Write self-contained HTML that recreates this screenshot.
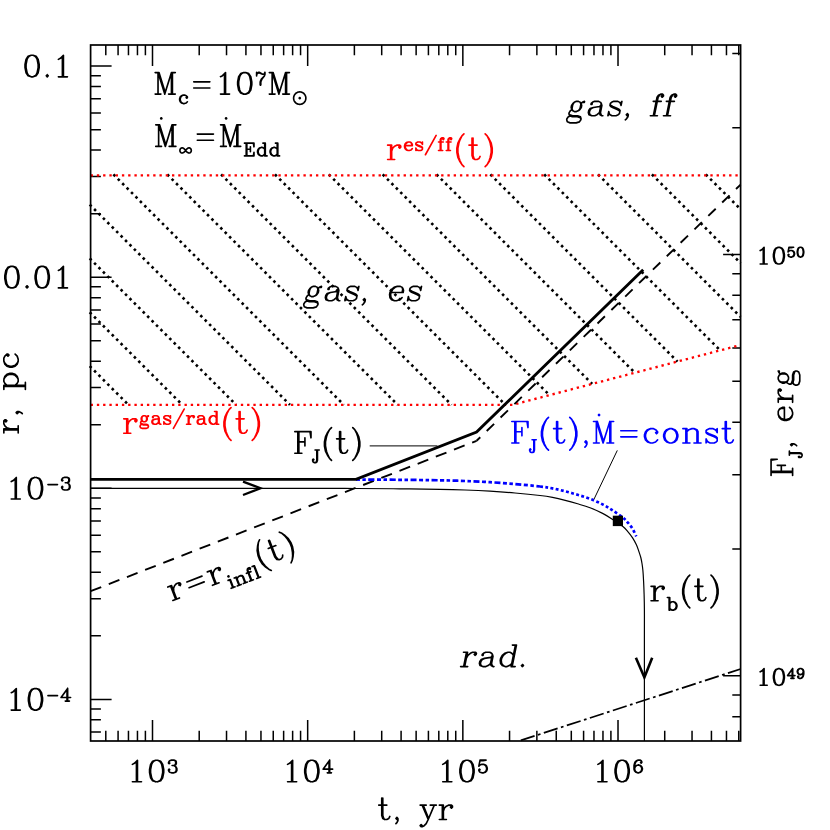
<!DOCTYPE html>
<html><head><meta charset="utf-8"><title>plot</title>
<style>html,body{margin:0;padding:0;background:#fff;font-family:"Liberation Serif",serif;}svg{display:block}</style>
</head><body>
<svg width="830" height="830" viewBox="0 0 830 830">
<rect width="830" height="830" fill="#fff"/>
<path d="M105.79 741V730.7M105.79 45V55.3M118.08 741V730.7M118.08 45V55.3M128.46 741V730.7M128.46 45V55.3M137.46 741V730.7M137.46 45V55.3M145.4 741V730.7M145.4 45V55.3M152.5 741V720M152.5 45V66M199.21 741V730.7M199.21 45V55.3M226.53 741V730.7M226.53 45V55.3M245.92 741V730.7M245.92 45V55.3M260.96 741V730.7M260.96 45V55.3M273.25 741V730.7M273.25 45V55.3M283.63 741V730.7M283.63 45V55.3M292.63 741V730.7M292.63 45V55.3M300.57 741V730.7M300.57 45V55.3M307.67 741V720M307.67 45V66M354.38 741V730.7M354.38 45V55.3M381.7 741V730.7M381.7 45V55.3M401.09 741V730.7M401.09 45V55.3M416.13 741V730.7M416.13 45V55.3M428.42 741V730.7M428.42 45V55.3M438.8 741V730.7M438.8 45V55.3M447.8 741V730.7M447.8 45V55.3M455.74 741V730.7M455.74 45V55.3M462.84 741V720M462.84 45V66M509.55 741V730.7M509.55 45V55.3M536.87 741V730.7M536.87 45V55.3M556.26 741V730.7M556.26 45V55.3M571.3 741V730.7M571.3 45V55.3M583.59 741V730.7M583.59 45V55.3M593.97 741V730.7M593.97 45V55.3M602.97 741V730.7M602.97 45V55.3M610.91 741V730.7M610.91 45V55.3M618.01 741V720M618.01 45V66M664.72 741V730.7M664.72 45V55.3M692.04 741V730.7M692.04 45V55.3M711.43 741V730.7M711.43 45V55.3M726.47 741V730.7M726.47 45V55.3M738.76 741V730.7M738.76 45V55.3M90.6 732.1H100.9M90.6 719.86H100.9M90.6 709.06H100.9M90.6 699.4H111.6M90.6 635.85H100.9M90.6 598.68H100.9M90.6 572.31H100.9M90.6 551.85H100.9M90.6 535.13H100.9M90.6 521H100.9M90.6 508.76H100.9M90.6 497.96H100.9M90.6 488.3H111.6M90.6 424.75H100.9M90.6 387.58H100.9M90.6 361.21H100.9M90.6 340.75H100.9M90.6 324.03H100.9M90.6 309.9H100.9M90.6 297.66H100.9M90.6 286.86H100.9M90.6 277.2H111.6M90.6 213.65H100.9M90.6 176.48H100.9M90.6 150.11H100.9M90.6 129.65H100.9M90.6 112.93H100.9M90.6 98.8H100.9M90.6 86.56H100.9M90.6 75.76H100.9M90.6 66.1H111.6M740.6 716.63H732.3M740.6 695.08H732.3M740.6 675.8H723.1M740.6 548.98H732.3M740.6 474.79H732.3M740.6 422.15H732.3M740.6 381.32H732.3M740.6 347.96H732.3M740.6 319.76H732.3M740.6 295.33H732.3M740.6 273.78H732.3M740.6 254.5H723.1M740.6 127.68H732.3M740.6 53.49H732.3" stroke="#000" stroke-width="1.5" fill="none"/>
<path d="M89.7 366.1L128.4 404.8M89.7 312.25L182.25 404.8M89.7 258.4L236.1 404.8M89.7 204.55L289.95 404.8M113.4 174.4L343.8 404.8M167.25 174.4L397.65 404.8M221.1 174.4L451.5 404.8M274.95 174.4L505.35 404.8M328.8 174.4L549.52 395.12M382.65 174.4L592.18 383.93M436.5 174.4L634.84 372.74M490.35 174.4L677.5 361.55M544.2 174.4L720.16 350.36M598.05 174.4L740.6 316.95M651.9 174.4L740.6 263.1M705.75 174.4L740.6 209.25" stroke="#000" stroke-width="2.6" stroke-dasharray="2.6 3.66" fill="none"/>
<path d="M90.6 175.3H740.6" stroke="#f00" stroke-width="2.35" stroke-dasharray="2.35 3.91" fill="none"/>
<path d="M90.6 404.8H512.6L740.6 345" stroke="#f00" stroke-width="2.35" stroke-dasharray="2.35 3.91" fill="none"/>
<path d="M90.6 591.2L476.6 440.8" stroke="#000" stroke-width="1.9" stroke-dasharray="11.4 8.1" fill="none"/>
<path d="M476.6 440.8L740.6 184.6" stroke="#000" stroke-width="1.9" stroke-dasharray="10.3 9" stroke-dashoffset="5.2" fill="none"/>
<path d="M90.6 488.3C125.5 488.31 255.77 488.32 300 488.35C344.23 488.38 339.33 488.43 356 488.5C372.67 488.57 386 488.67 400 488.8C414 488.93 429.17 489.1 440 489.3C450.83 489.5 456.67 489.68 465 490C473.33 490.32 481.67 490.7 490 491.2C498.33 491.7 506.67 492.28 515 493C523.33 493.72 533.75 494.77 540 495.5C546.25 496.23 548.3 496.6 552.5 497.4C556.7 498.2 561.02 499.23 565.2 500.3C569.38 501.37 573.47 502.55 577.6 503.8C581.73 505.05 585.83 506.2 590 507.8C594.17 509.4 598.82 511.47 602.6 513.4C606.38 515.33 609.32 517.22 612.7 519.4C616.08 521.58 620.42 524.52 622.9 526.5C625.38 528.48 625.98 529.42 627.6 531.3C629.22 533.18 631.13 535.55 632.6 537.8C634.07 540.05 635.35 542.52 636.4 544.8C637.45 547.08 638.17 549.38 638.9 551.5C639.63 553.62 640.28 555.5 640.8 557.5C641.32 559.5 641.65 561.33 642 563.5C642.35 565.67 642.63 567.5 642.9 570.5C643.17 573.5 643.4 577.58 643.6 581.5C643.8 585.42 643.97 589.25 644.1 594C644.23 598.75 644.35 602.33 644.4 610C644.45 617.67 644.4 618.17 644.4 640C644.4 661.83 644.4 724.17 644.4 741" stroke="#000" stroke-width="1.2" fill="none"/>
<path d="M356 479.5C363.33 479.55 386 479.67 400 479.8C414 479.93 429.17 480.1 440 480.3C450.83 480.5 456.67 480.68 465 481C473.33 481.32 481.67 481.7 490 482.2C498.33 482.7 506.67 483.28 515 484C523.33 484.72 533.75 485.77 540 486.5" stroke="#00f" stroke-width="2.7" stroke-dasharray="4 2.5 3.5 2.5 6 2.5" fill="none"/>
<path d="M540 486.5C546.25 487.23 548.3 487.6 552.5 488.4C556.7 489.2 561.02 490.23 565.2 491.3C569.38 492.37 573.47 493.55 577.6 494.8C581.73 496.05 585.83 497.2 590 498.8C594.17 500.4 598.82 502.47 602.6 504.4C606.38 506.33 609.32 508.22 612.7 510.4C616.08 512.58 620.42 515.52 622.9 517.5C625.38 519.48 625.98 520.42 627.6 522.3C629.22 524.18 631.15 526.45 632.6 528.8C634.05 531.15 635.68 535.13 636.3 536.4" stroke="#00f" stroke-width="2.7" stroke-dasharray="2.9 2.4" fill="none"/>
<path d="M90.6 479.4L356 479.4L476.6 432L643.2 269.8" stroke="#000" stroke-width="2.9" fill="none" stroke-linejoin="miter"/>
<path d="M519 741L740.6 669" stroke="#000" stroke-width="1.75" stroke-dasharray="14.5 3.5 2.7 3.5" stroke-dashoffset="22.3" fill="none"/>
<rect x="612.8" y="515.7" width="10.2" height="10.4" fill="#000"/>
<path d="M243 481.6L260.6 488.3L243 495" stroke="#000" stroke-width="2.2" fill="none" stroke-linejoin="miter"/>
<path d="M635.9 657.7L644.4 677.4L652.2 657.7" stroke="#000" stroke-width="2.6" fill="none" stroke-linejoin="miter"/>
<path d="M369.7 445.9H437.4M617.3 450.4L594 499.2" stroke="#000" stroke-width="1" fill="none"/>
<rect x="90.6" y="45" width="650" height="696" stroke="#000" stroke-width="1.7" fill="none"/>
<path transform="translate(152.5 781.8)" d="M-20.1 -17.43 L-18.08 -18.45 L-15.05 -21.53 L-15.05 0M-16.06 -20.5 L-16.06 0M-20.1 0 L-11.01 0M3.13 -21.53 L0.1 -20.5 L-1.92 -17.43 L-2.93 -12.3 L-2.93 -9.23 L-1.92 -4.1 L0.1 -1.03 L3.13 0 L5.15 0 L8.18 -1.03 L10.2 -4.1 L11.21 -9.23 L11.21 -12.3 L10.2 -17.43 L8.18 -20.5 L5.15 -21.53 L3.13 -21.53M3.13 -21.53 L1.11 -20.5 L0.1 -19.48 L-0.91 -17.43 L-1.92 -12.3 L-1.92 -9.23 L-0.91 -4.1 L0.1 -2.05 L1.11 -1.03 L3.13 0M5.15 0 L7.17 -1.03 L8.18 -2.05 L9.19 -4.1 L10.2 -9.23 L10.2 -12.3 L9.19 -17.43 L8.18 -19.48 L7.17 -20.5 L5.15 -21.53M16.62 -19.27 L17.22 -18.67 L16.62 -18.06 L16.03 -18.67 L16.03 -19.27 L16.62 -20.48 L17.22 -21.09 L19.01 -21.69 L21.39 -21.69 L23.18 -21.09 L23.78 -19.88 L23.78 -18.06 L23.18 -16.85 L21.39 -16.25 L19.6 -16.25M21.39 -21.69 L22.58 -21.09 L23.18 -19.88 L23.18 -18.06 L22.58 -16.85 L21.39 -16.25M21.39 -16.25 L22.58 -15.64 L23.78 -14.43 L24.37 -13.22 L24.37 -11.41 L23.78 -10.2 L23.18 -9.59 L21.39 -8.99 L19.01 -8.99 L17.22 -9.59 L16.62 -10.2 L16.03 -11.41 L16.03 -12.01 L16.62 -12.62 L17.22 -12.01 L16.62 -11.41M23.18 -15.04 L23.78 -13.22 L23.78 -11.41 L23.18 -10.2 L22.58 -9.59 L21.39 -8.99" stroke="#000" stroke-width="1.65" fill="none" stroke-linecap="round" stroke-linejoin="round"/>
<path transform="translate(307.67 781.8)" d="M-20.1 -17.43 L-18.08 -18.45 L-15.05 -21.53 L-15.05 0M-16.06 -20.5 L-16.06 0M-20.1 0 L-11.01 0M3.13 -21.53 L0.1 -20.5 L-1.92 -17.43 L-2.93 -12.3 L-2.93 -9.23 L-1.92 -4.1 L0.1 -1.03 L3.13 0 L5.15 0 L8.18 -1.03 L10.2 -4.1 L11.21 -9.23 L11.21 -12.3 L10.2 -17.43 L8.18 -20.5 L5.15 -21.53 L3.13 -21.53M3.13 -21.53 L1.11 -20.5 L0.1 -19.48 L-0.91 -17.43 L-1.92 -12.3 L-1.92 -9.23 L-0.91 -4.1 L0.1 -2.05 L1.11 -1.03 L3.13 0M5.15 0 L7.17 -1.03 L8.18 -2.05 L9.19 -4.1 L10.2 -9.23 L10.2 -12.3 L9.19 -17.43 L8.18 -19.48 L7.17 -20.5 L5.15 -21.53M21.39 -20.48 L21.39 -8.99M21.99 -21.69 L21.99 -8.99M21.99 -21.69 L15.43 -12.62 L24.97 -12.62M19.6 -8.99 L23.78 -8.99" stroke="#000" stroke-width="1.65" fill="none" stroke-linecap="round" stroke-linejoin="round"/>
<path transform="translate(462.84 781.8)" d="M-20.1 -17.43 L-18.08 -18.45 L-15.05 -21.53 L-15.05 0M-16.06 -20.5 L-16.06 0M-20.1 0 L-11.01 0M3.13 -21.53 L0.1 -20.5 L-1.92 -17.43 L-2.93 -12.3 L-2.93 -9.23 L-1.92 -4.1 L0.1 -1.03 L3.13 0 L5.15 0 L8.18 -1.03 L10.2 -4.1 L11.21 -9.23 L11.21 -12.3 L10.2 -17.43 L8.18 -20.5 L5.15 -21.53 L3.13 -21.53M3.13 -21.53 L1.11 -20.5 L0.1 -19.48 L-0.91 -17.43 L-1.92 -12.3 L-1.92 -9.23 L-0.91 -4.1 L0.1 -2.05 L1.11 -1.03 L3.13 0M5.15 0 L7.17 -1.03 L8.18 -2.05 L9.19 -4.1 L10.2 -9.23 L10.2 -12.3 L9.19 -17.43 L8.18 -19.48 L7.17 -20.5 L5.15 -21.53M17.22 -21.69 L16.03 -15.64M16.03 -15.64 L17.22 -16.85 L19.01 -17.46 L20.8 -17.46 L22.58 -16.85 L23.78 -15.64 L24.37 -13.83 L24.37 -12.62 L23.78 -10.8 L22.58 -9.59 L20.8 -8.99 L19.01 -8.99 L17.22 -9.59 L16.62 -10.2 L16.03 -11.41 L16.03 -12.01 L16.62 -12.62 L17.22 -12.01 L16.62 -11.41M20.8 -17.46 L21.99 -16.85 L23.18 -15.64 L23.78 -13.83 L23.78 -12.62 L23.18 -10.8 L21.99 -9.59 L20.8 -8.99M17.22 -21.69 L23.18 -21.69M17.22 -21.09 L20.2 -21.09 L23.18 -21.69" stroke="#000" stroke-width="1.65" fill="none" stroke-linecap="round" stroke-linejoin="round"/>
<path transform="translate(618.01 781.8)" d="M-20.1 -17.43 L-18.08 -18.45 L-15.05 -21.53 L-15.05 0M-16.06 -20.5 L-16.06 0M-20.1 0 L-11.01 0M3.13 -21.53 L0.1 -20.5 L-1.92 -17.43 L-2.93 -12.3 L-2.93 -9.23 L-1.92 -4.1 L0.1 -1.03 L3.13 0 L5.15 0 L8.18 -1.03 L10.2 -4.1 L11.21 -9.23 L11.21 -12.3 L10.2 -17.43 L8.18 -20.5 L5.15 -21.53 L3.13 -21.53M3.13 -21.53 L1.11 -20.5 L0.1 -19.48 L-0.91 -17.43 L-1.92 -12.3 L-1.92 -9.23 L-0.91 -4.1 L0.1 -2.05 L1.11 -1.03 L3.13 0M5.15 0 L7.17 -1.03 L8.18 -2.05 L9.19 -4.1 L10.2 -9.23 L10.2 -12.3 L9.19 -17.43 L8.18 -19.48 L7.17 -20.5 L5.15 -21.53M23.18 -19.88 L22.58 -19.27 L23.18 -18.67 L23.78 -19.27 L23.78 -19.88 L23.18 -21.09 L21.99 -21.69 L20.2 -21.69 L18.41 -21.09 L17.22 -19.88 L16.62 -18.67 L16.03 -16.25 L16.03 -12.62 L16.62 -10.8 L17.82 -9.59 L19.6 -8.99 L20.8 -8.99 L22.58 -9.59 L23.78 -10.8 L24.37 -12.62 L24.37 -13.22 L23.78 -15.04 L22.58 -16.25 L20.8 -16.85 L20.2 -16.85 L18.41 -16.25 L17.22 -15.04 L16.62 -13.22M20.2 -21.69 L19.01 -21.09 L17.82 -19.88 L17.22 -18.67 L16.62 -16.25 L16.62 -12.62 L17.22 -10.8 L18.41 -9.59 L19.6 -8.99M20.8 -8.99 L21.99 -9.59 L23.18 -10.8 L23.78 -12.62 L23.78 -13.22 L23.18 -15.04 L21.99 -16.25 L20.8 -16.85" stroke="#000" stroke-width="1.65" fill="none" stroke-linecap="round" stroke-linejoin="round"/>
<path transform="translate(72.5 76.8)" d="M-41.41 -21.53 L-44.44 -20.5 L-46.46 -17.43 L-47.47 -12.3 L-47.47 -9.23 L-46.46 -4.1 L-44.44 -1.03 L-41.41 0 L-39.39 0 L-36.36 -1.03 L-34.34 -4.1 L-33.33 -9.23 L-33.33 -12.3 L-34.34 -17.43 L-36.36 -20.5 L-39.39 -21.53 L-41.41 -21.53M-41.41 -21.53 L-43.43 -20.5 L-44.44 -19.48 L-45.45 -17.43 L-46.46 -12.3 L-46.46 -9.23 L-45.45 -4.1 L-44.44 -2.05 L-43.43 -1.03 L-41.41 0M-39.39 0 L-37.37 -1.03 L-36.36 -2.05 L-35.35 -4.1 L-34.34 -9.23 L-34.34 -12.3 L-35.35 -17.43 L-36.36 -19.48 L-37.37 -20.5 L-39.39 -21.53M-25.25 -2.05 L-26.26 -1.03 L-25.25 0 L-24.24 -1.03 L-25.25 -2.05M-14.14 -17.43 L-12.12 -18.45 L-9.09 -21.53 L-9.09 0M-10.1 -20.5 L-10.1 0M-14.14 0 L-5.05 0" stroke="#000" stroke-width="1.65" fill="none" stroke-linecap="round" stroke-linejoin="round"/>
<path transform="translate(72.5 287.9)" d="M-61.61 -21.53 L-64.64 -20.5 L-66.66 -17.43 L-67.67 -12.3 L-67.67 -9.23 L-66.66 -4.1 L-64.64 -1.03 L-61.61 0 L-59.59 0 L-56.56 -1.03 L-54.54 -4.1 L-53.53 -9.23 L-53.53 -12.3 L-54.54 -17.43 L-56.56 -20.5 L-59.59 -21.53 L-61.61 -21.53M-61.61 -21.53 L-63.63 -20.5 L-64.64 -19.48 L-65.65 -17.43 L-66.66 -12.3 L-66.66 -9.23 L-65.65 -4.1 L-64.64 -2.05 L-63.63 -1.03 L-61.61 0M-59.59 0 L-57.57 -1.03 L-56.56 -2.05 L-55.55 -4.1 L-54.54 -9.23 L-54.54 -12.3 L-55.55 -17.43 L-56.56 -19.48 L-57.57 -20.5 L-59.59 -21.53M-45.45 -2.05 L-46.46 -1.03 L-45.45 0 L-44.44 -1.03 L-45.45 -2.05M-31.31 -21.53 L-34.34 -20.5 L-36.36 -17.43 L-37.37 -12.3 L-37.37 -9.23 L-36.36 -4.1 L-34.34 -1.03 L-31.31 0 L-29.29 0 L-26.26 -1.03 L-24.24 -4.1 L-23.23 -9.23 L-23.23 -12.3 L-24.24 -17.43 L-26.26 -20.5 L-29.29 -21.53 L-31.31 -21.53M-31.31 -21.53 L-33.33 -20.5 L-34.34 -19.48 L-35.35 -17.43 L-36.36 -12.3 L-36.36 -9.23 L-35.35 -4.1 L-34.34 -2.05 L-33.33 -1.03 L-31.31 0M-29.29 0 L-27.27 -1.03 L-26.26 -2.05 L-25.25 -4.1 L-24.24 -9.23 L-24.24 -12.3 L-25.25 -17.43 L-26.26 -19.48 L-27.27 -20.5 L-29.29 -21.53M-14.14 -17.43 L-12.12 -18.45 L-9.09 -21.53 L-9.09 0M-10.1 -20.5 L-10.1 0M-14.14 0 L-5.05 0" stroke="#000" stroke-width="1.65" fill="none" stroke-linecap="round" stroke-linejoin="round"/>
<path transform="translate(71.8 499)" d="M-60.56 -17.43 L-58.54 -18.45 L-55.51 -21.53 L-55.51 0M-56.52 -20.5 L-56.52 0M-60.56 0 L-51.47 0M-37.33 -21.53 L-40.36 -20.5 L-42.38 -17.43 L-43.39 -12.3 L-43.39 -9.23 L-42.38 -4.1 L-40.36 -1.03 L-37.33 0 L-35.31 0 L-32.28 -1.03 L-30.26 -4.1 L-29.25 -9.23 L-29.25 -12.3 L-30.26 -17.43 L-32.28 -20.5 L-35.31 -21.53 L-37.33 -21.53M-37.33 -21.53 L-39.35 -20.5 L-40.36 -19.48 L-41.37 -17.43 L-42.38 -12.3 L-42.38 -9.23 L-41.37 -4.1 L-40.36 -2.05 L-39.35 -1.03 L-37.33 0M-35.31 0 L-33.29 -1.03 L-32.28 -2.05 L-31.27 -4.1 L-30.26 -9.23 L-30.26 -12.3 L-31.27 -17.43 L-32.28 -19.48 L-33.29 -20.5 L-35.31 -21.53M-23.84 -14.43 L-14.3 -14.43M-9.53 -19.27 L-8.94 -18.67 L-9.53 -18.06 L-10.13 -18.67 L-10.13 -19.27 L-9.53 -20.48 L-8.94 -21.09 L-7.15 -21.69 L-4.77 -21.69 L-2.98 -21.09 L-2.38 -19.88 L-2.38 -18.06 L-2.98 -16.85 L-4.77 -16.25 L-6.55 -16.25M-4.77 -21.69 L-3.58 -21.09 L-2.98 -19.88 L-2.98 -18.06 L-3.58 -16.85 L-4.77 -16.25M-4.77 -16.25 L-3.58 -15.64 L-2.38 -14.43 L-1.79 -13.22 L-1.79 -11.41 L-2.38 -10.2 L-2.98 -9.59 L-4.77 -8.99 L-7.15 -8.99 L-8.94 -9.59 L-9.53 -10.2 L-10.13 -11.41 L-10.13 -12.01 L-9.53 -12.62 L-8.94 -12.01 L-9.53 -11.41M-2.98 -15.04 L-2.38 -13.22 L-2.38 -11.41 L-2.98 -10.2 L-3.58 -9.59 L-4.77 -8.99" stroke="#000" stroke-width="1.65" fill="none" stroke-linecap="round" stroke-linejoin="round"/>
<path transform="translate(71.8 710.1)" d="M-60.56 -17.43 L-58.54 -18.45 L-55.51 -21.53 L-55.51 0M-56.52 -20.5 L-56.52 0M-60.56 0 L-51.47 0M-37.33 -21.53 L-40.36 -20.5 L-42.38 -17.43 L-43.39 -12.3 L-43.39 -9.23 L-42.38 -4.1 L-40.36 -1.03 L-37.33 0 L-35.31 0 L-32.28 -1.03 L-30.26 -4.1 L-29.25 -9.23 L-29.25 -12.3 L-30.26 -17.43 L-32.28 -20.5 L-35.31 -21.53 L-37.33 -21.53M-37.33 -21.53 L-39.35 -20.5 L-40.36 -19.48 L-41.37 -17.43 L-42.38 -12.3 L-42.38 -9.23 L-41.37 -4.1 L-40.36 -2.05 L-39.35 -1.03 L-37.33 0M-35.31 0 L-33.29 -1.03 L-32.28 -2.05 L-31.27 -4.1 L-30.26 -9.23 L-30.26 -12.3 L-31.27 -17.43 L-32.28 -19.48 L-33.29 -20.5 L-35.31 -21.53M-23.84 -14.43 L-14.3 -14.43M-4.77 -20.48 L-4.77 -8.99M-4.17 -21.69 L-4.17 -8.99M-4.17 -21.69 L-10.73 -12.62 L-1.19 -12.62M-6.55 -8.99 L-2.38 -8.99" stroke="#000" stroke-width="1.65" fill="none" stroke-linecap="round" stroke-linejoin="round"/>
<path transform="translate(755.5 264)" d="M4.68 -13.46 L6.24 -14.25 L8.58 -16.63 L8.58 0M7.8 -15.83 L7.8 0M4.68 0 L11.7 0M22.62 -16.63 L20.28 -15.83 L18.72 -13.46 L17.94 -9.5 L17.94 -7.13 L18.72 -3.17 L20.28 -0.79 L22.62 0 L24.18 0 L26.52 -0.79 L28.08 -3.17 L28.86 -7.13 L28.86 -9.5 L28.08 -13.46 L26.52 -15.83 L24.18 -16.63 L22.62 -16.63M22.62 -16.63 L21.06 -15.83 L20.28 -15.04 L19.5 -13.46 L18.72 -9.5 L18.72 -7.13 L19.5 -3.17 L20.28 -1.58 L21.06 -0.79 L22.62 0M24.18 0 L25.74 -0.79 L26.52 -1.58 L27.3 -3.17 L28.08 -7.13 L28.08 -9.5 L27.3 -13.46 L26.52 -15.04 L25.74 -15.83 L24.18 -16.63M33.5 -16.75 L32.58 -12.08M32.58 -12.08 L33.5 -13.01 L34.88 -13.48 L36.26 -13.48 L37.64 -13.01 L38.56 -12.08 L39.02 -10.68 L39.02 -9.74 L38.56 -8.34 L37.64 -7.41 L36.26 -6.94 L34.88 -6.94 L33.5 -7.41 L33.04 -7.88 L32.58 -8.81 L32.58 -9.28 L33.04 -9.74 L33.5 -9.28 L33.04 -8.81M36.26 -13.48 L37.18 -13.01 L38.1 -12.08 L38.56 -10.68 L38.56 -9.74 L38.1 -8.34 L37.18 -7.41 L36.26 -6.94M33.5 -16.75 L38.1 -16.75M33.5 -16.28 L35.8 -16.28 L38.1 -16.75M44.55 -16.75 L43.17 -16.28 L42.24 -14.88 L41.78 -12.55 L41.78 -11.15 L42.24 -8.81 L43.17 -7.41 L44.55 -6.94 L45.47 -6.94 L46.85 -7.41 L47.77 -8.81 L48.23 -11.15 L48.23 -12.55 L47.77 -14.88 L46.85 -16.28 L45.47 -16.75 L44.55 -16.75M44.55 -16.75 L43.63 -16.28 L43.17 -15.82 L42.71 -14.88 L42.24 -12.55 L42.24 -11.15 L42.71 -8.81 L43.17 -7.88 L43.63 -7.41 L44.55 -6.94M45.47 -6.94 L46.39 -7.41 L46.85 -7.88 L47.31 -8.81 L47.77 -11.15 L47.77 -12.55 L47.31 -14.88 L46.85 -15.82 L46.39 -16.28 L45.47 -16.75" stroke="#000" stroke-width="1.65" fill="none" stroke-linecap="round" stroke-linejoin="round"/>
<path transform="translate(755.5 685.3)" d="M4.68 -13.46 L6.24 -14.25 L8.58 -16.63 L8.58 0M7.8 -15.83 L7.8 0M4.68 0 L11.7 0M22.62 -16.63 L20.28 -15.83 L18.72 -13.46 L17.94 -9.5 L17.94 -7.13 L18.72 -3.17 L20.28 -0.79 L22.62 0 L24.18 0 L26.52 -0.79 L28.08 -3.17 L28.86 -7.13 L28.86 -9.5 L28.08 -13.46 L26.52 -15.83 L24.18 -16.63 L22.62 -16.63M22.62 -16.63 L21.06 -15.83 L20.28 -15.04 L19.5 -13.46 L18.72 -9.5 L18.72 -7.13 L19.5 -3.17 L20.28 -1.58 L21.06 -0.79 L22.62 0M24.18 0 L25.74 -0.79 L26.52 -1.58 L27.3 -3.17 L28.08 -7.13 L28.08 -9.5 L27.3 -13.46 L26.52 -15.04 L25.74 -15.83 L24.18 -16.63M36.72 -15.82 L36.72 -6.94M37.18 -16.75 L37.18 -6.94M37.18 -16.75 L32.12 -9.74 L39.48 -9.74M35.34 -6.94 L38.56 -6.94M47.77 -13.48 L47.31 -12.08 L46.39 -11.15 L45.01 -10.68 L44.55 -10.68 L43.17 -11.15 L42.24 -12.08 L41.78 -13.48 L41.78 -13.95 L42.24 -15.35 L43.17 -16.28 L44.55 -16.75 L45.47 -16.75 L46.85 -16.28 L47.77 -15.35 L48.23 -13.95 L48.23 -11.15 L47.77 -9.28 L47.31 -8.34 L46.39 -7.41 L45.01 -6.94 L43.63 -6.94 L42.71 -7.41 L42.24 -8.34 L42.24 -8.81 L42.71 -9.28 L43.17 -8.81 L42.71 -8.34M44.55 -10.68 L43.63 -11.15 L42.71 -12.08 L42.24 -13.48 L42.24 -13.95 L42.71 -15.35 L43.63 -16.28 L44.55 -16.75M45.47 -16.75 L46.39 -16.28 L47.31 -15.35 L47.77 -13.95 L47.77 -11.15 L47.31 -9.28 L46.85 -8.34 L45.93 -7.41 L45.01 -6.94" stroke="#000" stroke-width="1.65" fill="none" stroke-linecap="round" stroke-linejoin="round"/>
<path transform="translate(415.6 819.5)" d="M-33.84 -21.53 L-33.84 -4.1 L-32.82 -1.03 L-30.8 0 L-28.78 0 L-26.76 -1.03 L-25.75 -3.08M-32.82 -21.53 L-32.82 -4.1 L-31.81 -1.03 L-30.8 0M-36.86 -14.35 L-28.78 -14.35M-18.68 0 L-19.69 -1.03 L-18.68 -2.05 L-17.67 -1.03 L-17.67 1.03 L-18.68 3.08 L-19.69 4.1M6.56 -14.35 L12.62 0M7.57 -14.35 L12.62 -2.05M18.68 -14.35 L12.62 0 L10.6 4.1 L8.59 6.15 L6.56 7.18 L5.55 7.18 L4.55 6.15 L5.55 5.13 L6.56 6.15M4.55 -14.35 L10.6 -14.35M14.65 -14.35 L20.7 -14.35M26.76 -14.35 L26.76 0M27.77 -14.35 L27.77 0M27.77 -8.2 L28.78 -11.28 L30.8 -13.33 L32.82 -14.35 L35.85 -14.35 L36.87 -13.33 L36.87 -12.3 L35.85 -11.28 L34.84 -12.3 L35.85 -13.33M23.73 -14.35 L27.77 -14.35M23.73 0 L30.8 0" stroke="#000" stroke-width="1.65" fill="none" stroke-linecap="round" stroke-linejoin="round"/>
<path transform="translate(18.2 393) rotate(-90)" d="M-36.87 -14.35 L-36.87 0M-35.86 -14.35 L-35.86 0M-35.86 -8.2 L-34.85 -11.28 L-32.83 -13.33 L-30.81 -14.35 L-27.78 -14.35 L-26.77 -13.33 L-26.77 -12.3 L-27.78 -11.28 L-28.79 -12.3 L-27.78 -13.33M-39.9 -14.35 L-35.86 -14.35M-39.9 0 L-32.83 0M-19.7 0 L-20.71 -1.03 L-19.7 -2.05 L-18.69 -1.03 L-18.69 1.03 L-19.7 3.08 L-20.71 4.1M6.56 -14.35 L6.56 7.18M7.58 -14.35 L7.58 7.18M7.58 -11.28 L9.59 -13.33 L11.62 -14.35 L13.64 -14.35 L16.66 -13.33 L18.69 -11.28 L19.7 -8.2 L19.7 -6.15 L18.69 -3.08 L16.66 -1.03 L13.64 0 L11.62 0 L9.59 -1.03 L7.58 -3.08M13.64 -14.35 L15.66 -13.33 L17.67 -11.28 L18.69 -8.2 L18.69 -6.15 L17.67 -3.08 L15.66 -1.03 L13.64 0M3.54 -14.35 L7.58 -14.35M3.54 7.18 L10.61 7.18M37.88 -11.28 L36.87 -10.25 L37.88 -9.23 L38.89 -10.25 L38.89 -11.28 L36.87 -13.33 L34.85 -14.35 L31.82 -14.35 L28.79 -13.33 L26.77 -11.28 L25.76 -8.2 L25.76 -6.15 L26.77 -3.08 L28.79 -1.03 L31.82 0 L33.84 0 L36.87 -1.03 L38.89 -3.08M31.82 -14.35 L29.8 -13.33 L27.78 -11.28 L26.77 -8.2 L26.77 -6.15 L27.78 -3.08 L29.8 -1.03 L31.82 0" stroke="#000" stroke-width="1.65" fill="none" stroke-linecap="round" stroke-linejoin="round"/>
<path transform="translate(792.6 422.7) rotate(-90)" d="M-49.67 -21.53 L-49.67 0M-48.66 -21.53 L-48.66 0M-42.6 -15.38 L-42.6 -7.18M-52.7 -21.53 L-36.54 -21.53 L-36.54 -15.38 L-37.55 -21.53M-48.66 -11.28 L-42.6 -11.28M-52.7 0 L-45.63 0M-30.07 -3.21 L-30.07 7.07 L-30.67 8.89 L-31.86 9.49 L-33.05 9.49 L-34.24 8.89 L-34.84 7.68 L-34.84 6.47 L-34.24 5.86 L-33.65 6.47 L-34.24 7.07M-30.67 -3.21 L-30.67 7.07 L-31.26 8.89 L-31.86 9.49M-32.46 -3.21 L-28.29 -3.21M-22.04 0 L-23.05 -1.03 L-22.04 -2.05 L-21.03 -1.03 L-21.03 1.03 L-22.04 3.08 L-23.05 4.1M3.21 -8.2 L15.33 -8.2 L15.33 -10.25 L14.32 -12.3 L13.31 -13.33 L11.29 -14.35 L8.26 -14.35 L5.23 -13.33 L3.21 -11.28 L2.2 -8.2 L2.2 -6.15 L3.21 -3.08 L5.23 -1.03 L8.26 0 L10.28 0 L13.31 -1.03 L15.33 -3.08M14.32 -8.2 L14.32 -11.28 L13.31 -13.33M8.26 -14.35 L6.24 -13.33 L4.22 -11.28 L3.21 -8.2 L3.21 -6.15 L4.22 -3.08 L6.24 -1.03 L8.26 0M23.41 -14.35 L23.41 0M24.42 -14.35 L24.42 0M24.42 -8.2 L25.43 -11.28 L27.45 -13.33 L29.47 -14.35 L32.5 -14.35 L33.51 -13.33 L33.51 -12.3 L32.5 -11.28 L31.49 -12.3 L32.5 -13.33M20.38 -14.35 L24.42 -14.35M20.38 0 L27.45 0M43.61 -14.35 L41.59 -13.33 L40.58 -12.3 L39.57 -10.25 L39.57 -8.2 L40.58 -6.15 L41.59 -5.13 L43.61 -4.1 L45.63 -4.1 L47.65 -5.13 L48.66 -6.15 L49.67 -8.2 L49.67 -10.25 L48.66 -12.3 L47.65 -13.33 L45.63 -14.35 L43.61 -14.35M41.59 -13.33 L40.58 -11.28 L40.58 -7.18 L41.59 -5.13M47.65 -5.13 L48.66 -7.18 L48.66 -11.28 L47.65 -13.33M48.66 -12.3 L49.67 -13.33 L51.69 -14.35 L51.69 -13.33 L49.67 -13.33M40.58 -6.15 L39.57 -5.13 L38.56 -3.08 L38.56 -2.05 L39.57 0 L42.6 1.03 L47.65 1.03 L50.68 2.05 L51.69 3.08M38.56 -2.05 L39.57 -1.03 L42.6 0 L47.65 0 L50.68 1.03 L51.69 3.08 L51.69 4.1 L50.68 6.15 L47.65 7.18 L41.59 7.18 L38.56 6.15 L37.55 4.1 L37.55 3.08 L38.56 1.03 L41.59 0" stroke="#000" stroke-width="1.65" fill="none" stroke-linecap="round" stroke-linejoin="round"/>
<path transform="translate(152.6 94.1)" d="M5.43 -21.53 L5.43 0M6.39 -21.53 L12.15 -3.08M5.43 -21.53 L12.15 0M18.86 -21.53 L12.15 0M18.86 -21.53 L18.86 0M19.82 -21.53 L19.82 0M2.55 -21.53 L6.39 -21.53M18.86 -21.53 L22.7 -21.53M2.55 0 L8.31 0M15.98 0 L22.7 0M34.19 2.84 L33.59 3.45 L34.19 4.05 L34.78 3.45 L34.78 2.84 L33.59 1.63 L32.4 1.03 L30.61 1.03 L28.83 1.63 L27.63 2.84 L27.04 4.66 L27.04 5.86 L27.63 7.68 L28.83 8.89 L30.61 9.49 L31.8 9.49 L33.59 8.89 L34.78 7.68M30.61 1.03 L29.42 1.63 L28.23 2.84 L27.63 4.66 L27.63 5.86 L28.23 7.68 L29.42 8.89 L30.61 9.49M41.12 -12.3 L57.28 -12.3M41.12 -6.15 L57.28 -6.15M67.88 -17.43 L69.9 -18.45 L72.93 -21.53 L72.93 0M71.92 -20.5 L71.92 0M67.88 0 L76.97 0M91.11 -21.53 L88.08 -20.5 L86.06 -17.43 L85.05 -12.3 L85.05 -9.23 L86.06 -4.1 L88.08 -1.03 L91.11 0 L93.13 0 L96.16 -1.03 L98.18 -4.1 L99.19 -9.23 L99.19 -12.3 L98.18 -17.43 L96.16 -20.5 L93.13 -21.53 L91.11 -21.53M91.11 -21.53 L89.09 -20.5 L88.08 -19.48 L87.07 -17.43 L86.06 -12.3 L86.06 -9.23 L87.07 -4.1 L88.08 -2.05 L89.09 -1.03 L91.11 0M93.13 0 L95.15 -1.03 L96.16 -2.05 L97.17 -4.1 L98.18 -9.23 L98.18 -12.3 L97.17 -17.43 L96.16 -19.48 L95.15 -20.5 L93.13 -21.53M104.01 -21.69 L104.01 -18.06M104.01 -19.27 L104.61 -20.48 L105.8 -21.69 L106.99 -21.69 L109.97 -19.88 L111.16 -19.88 L111.76 -20.48 L112.35 -21.69M104.61 -20.48 L105.8 -21.09 L106.99 -21.09 L109.97 -19.88M112.35 -21.69 L112.35 -19.88 L111.76 -18.06 L109.37 -15.04 L108.78 -13.83 L108.18 -12.01 L108.18 -8.99M111.76 -18.06 L108.78 -15.04 L108.18 -13.83 L107.59 -12.01 L107.59 -8.99M119.57 -21.53 L119.57 0M120.53 -21.53 L126.29 -3.08M119.57 -21.53 L126.29 0M133 -21.53 L126.29 0M133 -21.53 L133 0M133.96 -21.53 L133.96 0M116.69 -21.53 L120.53 -21.53M133 -21.53 L136.84 -21.53M116.69 0 L122.45 0M130.12 0 L136.84 0M153.27 4.05 L153.16 5.27 L152.81 6.43 L152.24 7.51 L151.48 8.46 L150.55 9.23 L149.49 9.81 L148.33 10.16 L147.14 10.28 L145.94 10.16 L144.79 9.81 L143.73 9.23 L142.8 8.46 L142.03 7.51 L141.47 6.43 L141.12 5.27 L141 4.05 L141.12 2.84 L141.47 1.67 L142.03 0.59 L142.8 -0.35 L143.73 -1.13 L144.79 -1.71 L145.94 -2.06 L147.14 -2.18 L148.33 -2.06 L149.49 -1.71 L150.55 -1.13 L151.48 -0.35 L152.24 0.59 L152.81 1.67 L153.16 2.84 L153.27 4.05M147.67 4.05 L147.52 4.44 L147.14 4.59 L146.76 4.44 L146.6 4.05 L146.76 3.67 L147.14 3.51 L147.52 3.67 L147.67 4.05" stroke="#000" stroke-width="1.65" fill="none" stroke-linecap="round" stroke-linejoin="round"/>
<path transform="translate(153.2 146.4)" d="M5.43 -21.53 L5.43 0M6.39 -21.53 L12.15 -3.08M5.43 -21.53 L12.15 0M18.86 -21.53 L12.15 0M18.86 -21.53 L18.86 0M19.82 -21.53 L19.82 0M2.55 -21.53 L6.39 -21.53M18.86 -21.53 L22.7 -21.53M2.55 0 L8.31 0M15.98 0 L22.7 0M8.64 -27.99 L8.47 -27.59 L8.08 -27.42 L7.69 -27.59 L7.52 -27.99 L7.69 -28.39 L8.08 -28.55 L8.47 -28.39 L8.64 -27.99M38.12 4.05 L37.98 4.97 L37.58 5.75 L37.01 6.29 L36.36 6.56 L35.71 6.61 L35.1 6.47 L34.54 6.2 L34.04 5.85 L33.58 5.43 L33.17 4.99 L32.78 4.52 L32.4 4.05 L32.02 3.58 L31.63 3.11 L31.22 2.67 L30.77 2.25 L30.26 1.9 L29.7 1.63 L29.09 1.49 L28.44 1.54 L27.79 1.81 L27.22 2.35 L26.82 3.13 L26.68 4.05 L26.82 4.97 L27.22 5.75 L27.79 6.29 L28.44 6.56 L29.09 6.61 L29.7 6.47 L30.26 6.2 L30.77 5.85 L31.22 5.43 L31.63 4.99 L32.02 4.52 L32.4 4.05 L32.78 3.58 L33.17 3.11 L33.58 2.67 L34.04 2.25 L34.54 1.9 L35.1 1.63 L35.71 1.49 L36.36 1.54 L37.01 1.81 L37.58 2.35 L37.98 3.13 L38.12 4.05M44.1 -12.3 L60.26 -12.3M44.1 -6.15 L60.26 -6.15M70.23 -21.53 L70.23 0M71.19 -21.53 L76.95 -3.08M70.23 -21.53 L76.95 0M83.66 -21.53 L76.95 0M83.66 -21.53 L83.66 0M84.62 -21.53 L84.62 0M67.35 -21.53 L71.19 -21.53M83.66 -21.53 L87.5 -21.53M67.35 0 L73.11 0M80.78 0 L87.5 0M73.44 -27.99 L73.27 -27.59 L72.88 -27.42 L72.49 -27.59 L72.33 -27.99 L72.49 -28.39 L72.88 -28.55 L73.27 -28.39 L73.44 -27.99M93.03 -3.21 L93.03 9.49M93.63 -3.21 L93.63 9.49M97.2 0.42 L97.2 5.26M91.24 -3.21 L100.78 -3.21 L100.78 0.42 L100.18 -3.21M93.63 2.84 L97.2 2.84M91.24 9.49 L100.78 9.49 L100.78 5.86 L100.18 9.49M111.5 -3.21 L111.5 9.49M112.1 -3.21 L112.1 9.49M111.5 2.84 L110.31 1.63 L109.12 1.03 L107.93 1.03 L106.14 1.63 L104.95 2.84 L104.35 4.66 L104.35 5.86 L104.95 7.68 L106.14 8.89 L107.93 9.49 L109.12 9.49 L110.31 8.89 L111.5 7.68M107.93 1.03 L106.74 1.63 L105.55 2.84 L104.95 4.66 L104.95 5.86 L105.55 7.68 L106.74 8.89 L107.93 9.49M109.72 -3.21 L112.1 -3.21M111.5 9.49 L113.89 9.49M124.02 -3.21 L124.02 9.49M124.61 -3.21 L124.61 9.49M124.02 2.84 L122.83 1.63 L121.63 1.03 L120.44 1.03 L118.65 1.63 L117.46 2.84 L116.87 4.66 L116.87 5.86 L117.46 7.68 L118.65 8.89 L120.44 9.49 L121.63 9.49 L122.83 8.89 L124.02 7.68M120.44 1.03 L119.25 1.63 L118.06 2.84 L117.46 4.66 L117.46 5.86 L118.06 7.68 L119.25 8.89 L120.44 9.49M122.23 -3.21 L124.61 -3.21M124.02 9.49 L126.4 9.49" stroke="#000" stroke-width="1.65" fill="none" stroke-linecap="round" stroke-linejoin="round"/>
<path transform="translate(385.6 159.5)" d="M5.05 -14.35 L5.05 0M6.06 -14.35 L6.06 0M6.06 -8.2 L7.07 -11.28 L9.09 -13.33 L11.11 -14.35 L14.14 -14.35 L15.15 -13.33 L15.15 -12.3 L14.14 -11.28 L13.13 -12.3 L14.14 -13.33M2.02 -14.35 L6.06 -14.35M2.02 0 L9.09 0M19.55 -13.83 L26.7 -13.83 L26.7 -15.04 L26.11 -16.25 L25.51 -16.85 L24.32 -17.46 L22.53 -17.46 L20.75 -16.85 L19.55 -15.64 L18.96 -13.83 L18.96 -12.62 L19.55 -10.8 L20.75 -9.59 L22.53 -8.99 L23.72 -8.99 L25.51 -9.59 L26.7 -10.8M26.11 -13.83 L26.11 -15.64 L25.51 -16.85M22.53 -17.46 L21.34 -16.85 L20.15 -15.64 L19.55 -13.83 L19.55 -12.62 L20.15 -10.8 L21.34 -9.59 L22.53 -8.99M36.24 -16.25 L36.83 -17.46 L36.83 -15.04 L36.24 -16.25 L35.64 -16.85 L34.45 -17.46 L32.07 -17.46 L30.88 -16.85 L30.28 -16.25 L30.28 -15.04 L30.88 -14.43 L32.07 -13.83 L35.05 -12.62 L36.24 -12.01 L36.83 -11.41M30.28 -15.64 L30.88 -15.04 L32.07 -14.43 L35.05 -13.22 L36.24 -12.62 L36.83 -12.01 L36.83 -10.2 L36.24 -9.59 L35.05 -8.99 L32.66 -8.99 L31.47 -9.59 L30.88 -10.2 L30.28 -11.41 L30.28 -8.99 L30.88 -10.2M50.54 -24.11 L39.81 -4.76M57.69 -21.09 L57.1 -20.48 L57.69 -19.88 L58.29 -20.48 L58.29 -21.09 L57.69 -21.69 L56.5 -21.69 L55.31 -21.09 L54.71 -19.88 L54.71 -8.99M56.5 -21.69 L55.9 -21.09 L55.31 -19.88 L55.31 -8.99M52.92 -17.46 L57.69 -17.46M52.92 -8.99 L57.1 -8.99M65.44 -21.09 L64.84 -20.48 L65.44 -19.88 L66.03 -20.48 L66.03 -21.09 L65.44 -21.69 L64.25 -21.69 L63.05 -21.09 L62.46 -19.88 L62.46 -8.99M64.25 -21.69 L63.65 -21.09 L63.05 -19.88 L63.05 -8.99M60.67 -17.46 L65.44 -17.46M60.67 -8.99 L64.84 -8.99M78.34 -25.63 L76.32 -23.58 L74.3 -20.5 L72.28 -16.4 L71.27 -11.28 L71.27 -7.18 L72.28 -2.05 L74.3 2.05 L76.32 5.13 L78.34 7.18M76.32 -23.58 L74.3 -19.48 L73.29 -16.4 L72.28 -11.28 L72.28 -7.18 L73.29 -2.05 L74.3 1.03 L76.32 5.13M86.42 -21.53 L86.42 -4.1 L87.43 -1.03 L89.45 0 L91.47 0 L93.49 -1.03 L94.5 -3.08M87.43 -21.53 L87.43 -4.1 L88.44 -1.03 L89.45 0M83.39 -14.35 L91.47 -14.35M99.55 -25.63 L101.57 -23.58 L103.59 -20.5 L105.61 -16.4 L106.62 -11.28 L106.62 -7.18 L105.61 -2.05 L103.59 2.05 L101.57 5.13 L99.55 7.18M101.57 -23.58 L103.59 -19.48 L104.6 -16.4 L105.61 -11.28 L105.61 -7.18 L104.6 -2.05 L103.59 1.03 L101.57 5.13" stroke="#f00" stroke-width="1.65" fill="none" stroke-linecap="round" stroke-linejoin="round"/>
<path transform="translate(121.7 433.2)" d="M5.05 -14.35 L5.05 0M6.06 -14.35 L6.06 0M6.06 -8.2 L7.07 -11.28 L9.09 -13.33 L11.11 -14.35 L14.14 -14.35 L15.15 -13.33 L15.15 -12.3 L14.14 -11.28 L13.13 -12.3 L14.14 -13.33M2.02 -14.35 L6.06 -14.35M2.02 0 L9.09 0M21.94 -17.46 L20.75 -16.85 L20.15 -16.25 L19.55 -15.04 L19.55 -13.83 L20.15 -12.62 L20.75 -12.01 L21.94 -11.41 L23.13 -11.41 L24.32 -12.01 L24.92 -12.62 L25.51 -13.83 L25.51 -15.04 L24.92 -16.25 L24.32 -16.85 L23.13 -17.46 L21.94 -17.46M20.75 -16.85 L20.15 -15.64 L20.15 -13.22 L20.75 -12.01M24.32 -12.01 L24.92 -13.22 L24.92 -15.64 L24.32 -16.85M24.92 -16.25 L25.51 -16.85 L26.7 -17.46 L26.7 -16.85 L25.51 -16.85M20.15 -12.62 L19.55 -12.01 L18.96 -10.8 L18.96 -10.2 L19.55 -8.99 L21.34 -8.38 L24.32 -8.38 L26.11 -7.78 L26.7 -7.17M18.96 -10.2 L19.55 -9.59 L21.34 -8.99 L24.32 -8.99 L26.11 -8.38 L26.7 -7.17 L26.7 -6.57 L26.11 -5.36 L24.32 -4.76 L20.75 -4.76 L18.96 -5.36 L18.36 -6.57 L18.36 -7.17 L18.96 -8.38 L20.75 -8.99M31.47 -16.25 L31.47 -15.64 L30.88 -15.64 L30.88 -16.25 L31.47 -16.85 L32.66 -17.46 L35.05 -17.46 L36.24 -16.85 L36.83 -16.25 L37.43 -15.04 L37.43 -10.8 L38.03 -9.59 L38.62 -8.99M36.83 -16.25 L36.83 -10.8 L37.43 -9.59 L38.62 -8.99 L39.22 -8.99M36.83 -15.04 L36.24 -14.43 L32.66 -13.83 L30.88 -13.22 L30.28 -12.01 L30.28 -10.8 L30.88 -9.59 L32.66 -8.99 L34.45 -8.99 L35.64 -9.59 L36.83 -10.8M32.66 -13.83 L31.47 -13.22 L30.88 -12.01 L30.88 -10.8 L31.47 -9.59 L32.66 -8.99M48.16 -16.25 L48.75 -17.46 L48.75 -15.04 L48.16 -16.25 L47.56 -16.85 L46.37 -17.46 L43.99 -17.46 L42.79 -16.85 L42.2 -16.25 L42.2 -15.04 L42.79 -14.43 L43.99 -13.83 L46.97 -12.62 L48.16 -12.01 L48.75 -11.41M42.2 -15.64 L42.79 -15.04 L43.99 -14.43 L46.97 -13.22 L48.16 -12.62 L48.75 -12.01 L48.75 -10.2 L48.16 -9.59 L46.97 -8.99 L44.58 -8.99 L43.39 -9.59 L42.79 -10.2 L42.2 -11.41 L42.2 -8.99 L42.79 -10.2M62.46 -24.11 L51.73 -4.76M66.63 -17.46 L66.63 -8.99M67.23 -17.46 L67.23 -8.99M67.23 -13.83 L67.82 -15.64 L69.01 -16.85 L70.21 -17.46 L71.99 -17.46 L72.59 -16.85 L72.59 -16.25 L71.99 -15.64 L71.4 -16.25 L71.99 -16.85M64.84 -17.46 L67.23 -17.46M64.84 -8.99 L69.01 -8.99M76.76 -16.25 L76.76 -15.64 L76.16 -15.64 L76.16 -16.25 L76.76 -16.85 L77.95 -17.46 L80.34 -17.46 L81.53 -16.85 L82.12 -16.25 L82.72 -15.04 L82.72 -10.8 L83.31 -9.59 L83.91 -8.99M82.12 -16.25 L82.12 -10.8 L82.72 -9.59 L83.91 -8.99 L84.51 -8.99M82.12 -15.04 L81.53 -14.43 L77.95 -13.83 L76.16 -13.22 L75.57 -12.01 L75.57 -10.8 L76.16 -9.59 L77.95 -8.99 L79.74 -8.99 L80.93 -9.59 L82.12 -10.8M77.95 -13.83 L76.76 -13.22 L76.16 -12.01 L76.16 -10.8 L76.76 -9.59 L77.95 -8.99M94.64 -21.69 L94.64 -8.99M95.23 -21.69 L95.23 -8.99M94.64 -15.64 L93.45 -16.85 L92.25 -17.46 L91.06 -17.46 L89.27 -16.85 L88.08 -15.64 L87.49 -13.83 L87.49 -12.62 L88.08 -10.8 L89.27 -9.59 L91.06 -8.99 L92.25 -8.99 L93.45 -9.59 L94.64 -10.8M91.06 -17.46 L89.87 -16.85 L88.68 -15.64 L88.08 -13.83 L88.08 -12.62 L88.68 -10.8 L89.87 -9.59 L91.06 -8.99M92.85 -21.69 L95.23 -21.69M94.64 -8.99 L97.02 -8.99M109.32 -25.63 L107.3 -23.58 L105.28 -20.5 L103.26 -16.4 L102.25 -11.28 L102.25 -7.18 L103.26 -2.05 L105.28 2.05 L107.3 5.13 L109.32 7.18M107.3 -23.58 L105.28 -19.48 L104.27 -16.4 L103.26 -11.28 L103.26 -7.18 L104.27 -2.05 L105.28 1.03 L107.3 5.13M117.4 -21.53 L117.4 -4.1 L118.41 -1.03 L120.43 0 L122.45 0 L124.47 -1.03 L125.48 -3.08M118.41 -21.53 L118.41 -4.1 L119.42 -1.03 L120.43 0M114.37 -14.35 L122.45 -14.35M130.53 -25.63 L132.55 -23.58 L134.57 -20.5 L136.59 -16.4 L137.6 -11.28 L137.6 -7.18 L136.59 -2.05 L134.57 2.05 L132.55 5.13 L130.53 7.18M132.55 -23.58 L134.57 -19.48 L135.58 -16.4 L136.59 -11.28 L136.59 -7.18 L135.58 -2.05 L134.57 1.03 L132.55 5.13" stroke="#f00" stroke-width="1.65" fill="none" stroke-linecap="round" stroke-linejoin="round"/>
<path transform="translate(565.5 115.7)" d="M10.95 -14.35 L8.73 -13.33 L7.51 -12.3 L6.09 -10.25 L5.68 -8.2 L6.28 -6.15 L7.09 -5.13 L8.9 -4.1 L10.92 -4.1 L13.15 -5.13 L14.36 -6.15 L15.78 -8.2 L16.19 -10.25 L15.59 -12.3 L14.79 -13.33 L12.97 -14.35 L10.95 -14.35M8.73 -13.33 L7.31 -11.28 L6.49 -7.18 L7.09 -5.13M13.15 -5.13 L14.57 -7.18 L15.39 -11.28 L14.79 -13.33M15.59 -12.3 L16.81 -13.33 L19.03 -14.35 L18.83 -13.33 L16.81 -13.33M6.28 -6.15 L5.07 -5.13 L3.65 -3.08 L3.44 -2.05 L4.04 0 L6.86 1.03 L11.91 1.03 L14.74 2.05 L15.54 3.08M3.44 -2.05 L4.25 -1.03 L7.07 0 L12.12 0 L14.94 1.03 L15.54 3.08 L15.34 4.1 L13.92 6.15 L10.68 7.18 L4.62 7.18 L1.8 6.15 L1.2 4.1 L1.4 3.08 L2.82 1.03 L6.06 0M26.7 -12.3 L26.5 -11.28 L25.49 -11.28 L25.69 -12.3 L26.91 -13.33 L29.13 -14.35 L33.17 -14.35 L34.99 -13.33 L35.79 -12.3 L36.39 -10.25 L34.96 -3.08 L35.56 -1.03 L36.36 0M35.79 -12.3 L33.95 -3.08 L34.55 -1.03 L36.36 0 L37.37 0M35.38 -10.25 L34.17 -9.23 L27.9 -8.2 L24.67 -7.18 L23.25 -5.13 L22.84 -3.08 L23.44 -1.03 L26.26 0 L29.29 0 L31.52 -1.03 L33.95 -3.08M27.9 -8.2 L25.68 -7.18 L24.26 -5.13 L23.85 -3.08 L24.45 -1.03 L26.26 0M54.98 -12.3 L56.4 -14.35 L55.58 -10.25 L54.98 -12.3 L54.18 -13.33 L52.36 -14.35 L48.32 -14.35 L46.1 -13.33 L44.88 -12.3 L44.47 -10.25 L45.28 -9.23 L47.09 -8.2 L51.73 -6.15 L53.55 -5.13 L54.35 -4.1M44.68 -11.28 L45.48 -10.25 L47.3 -9.23 L51.94 -7.18 L53.75 -6.15 L54.56 -5.13 L53.94 -2.05 L52.73 -1.03 L50.5 0 L46.46 0 L44.65 -1.03 L43.84 -2.05 L43.24 -4.1 L42.42 0 L43.84 -2.05M61.61 0 L60.81 -1.03 L62.02 -2.05 L62.83 -1.03 L62.41 1.03 L60.99 3.08 L59.78 4.1M97.02 -20.5 L95.81 -19.48 L96.61 -18.45 L97.83 -19.48 L98.03 -20.5 L97.23 -21.53 L95.21 -21.53 L92.98 -20.5 L91.56 -18.45 L87.87 0M95.21 -21.53 L93.99 -20.5 L92.57 -18.45 L88.88 0M87.71 -14.35 L95.79 -14.35M84.84 0 L91.91 0M110.15 -20.5 L108.94 -19.48 L109.74 -18.45 L110.96 -19.48 L111.16 -20.5 L110.36 -21.53 L108.34 -21.53 L106.11 -20.5 L104.69 -18.45 L101 0M108.34 -21.53 L107.12 -20.5 L105.7 -18.45 L102.01 0M100.84 -14.35 L108.92 -14.35M97.97 0 L105.04 0" stroke="#000" stroke-width="1.65" fill="none" stroke-linecap="round" stroke-linejoin="round"/>
<path transform="translate(302.5 300.7)" d="M10.95 -14.35 L8.73 -13.33 L7.51 -12.3 L6.09 -10.25 L5.68 -8.2 L6.28 -6.15 L7.09 -5.13 L8.9 -4.1 L10.92 -4.1 L13.15 -5.13 L14.36 -6.15 L15.78 -8.2 L16.19 -10.25 L15.59 -12.3 L14.79 -13.33 L12.97 -14.35 L10.95 -14.35M8.73 -13.33 L7.31 -11.28 L6.49 -7.18 L7.09 -5.13M13.15 -5.13 L14.57 -7.18 L15.39 -11.28 L14.79 -13.33M15.59 -12.3 L16.81 -13.33 L19.03 -14.35 L18.83 -13.33 L16.81 -13.33M6.28 -6.15 L5.07 -5.13 L3.65 -3.08 L3.44 -2.05 L4.04 0 L6.86 1.03 L11.91 1.03 L14.74 2.05 L15.54 3.08M3.44 -2.05 L4.25 -1.03 L7.07 0 L12.12 0 L14.94 1.03 L15.54 3.08 L15.34 4.1 L13.92 6.15 L10.68 7.18 L4.62 7.18 L1.8 6.15 L1.2 4.1 L1.4 3.08 L2.82 1.03 L6.06 0M26.7 -12.3 L26.5 -11.28 L25.49 -11.28 L25.69 -12.3 L26.91 -13.33 L29.13 -14.35 L33.17 -14.35 L34.99 -13.33 L35.79 -12.3 L36.39 -10.25 L34.96 -3.08 L35.56 -1.03 L36.36 0M35.79 -12.3 L33.95 -3.08 L34.55 -1.03 L36.36 0 L37.37 0M35.38 -10.25 L34.17 -9.23 L27.9 -8.2 L24.67 -7.18 L23.25 -5.13 L22.84 -3.08 L23.44 -1.03 L26.26 0 L29.29 0 L31.52 -1.03 L33.95 -3.08M27.9 -8.2 L25.68 -7.18 L24.26 -5.13 L23.85 -3.08 L24.45 -1.03 L26.26 0M54.98 -12.3 L56.4 -14.35 L55.58 -10.25 L54.98 -12.3 L54.18 -13.33 L52.36 -14.35 L48.32 -14.35 L46.1 -13.33 L44.88 -12.3 L44.47 -10.25 L45.28 -9.23 L47.09 -8.2 L51.73 -6.15 L53.55 -5.13 L54.35 -4.1M44.68 -11.28 L45.48 -10.25 L47.3 -9.23 L51.94 -7.18 L53.75 -6.15 L54.56 -5.13 L53.94 -2.05 L52.73 -1.03 L50.5 0 L46.46 0 L44.65 -1.03 L43.84 -2.05 L43.24 -4.1 L42.42 0 L43.84 -2.05M61.61 0 L60.81 -1.03 L62.02 -2.05 L62.83 -1.03 L62.41 1.03 L60.99 3.08 L59.78 4.1M88.5 -8.2 L100.62 -8.2 L101.03 -10.25 L100.43 -12.3 L99.63 -13.33 L97.81 -14.35 L94.78 -14.35 L91.55 -13.33 L89.12 -11.28 L87.49 -8.2 L87.08 -6.15 L87.48 -3.08 L89.09 -1.03 L91.91 0 L93.93 0 L97.17 -1.03 L99.6 -3.08M99.61 -8.2 L100.23 -11.28 L99.63 -13.33M94.78 -14.35 L92.56 -13.33 L90.13 -11.28 L88.5 -8.2 L88.09 -6.15 L88.49 -3.08 L90.1 -1.03 L91.91 0M117.6 -12.3 L119.02 -14.35 L118.2 -10.25 L117.6 -12.3 L116.8 -13.33 L114.98 -14.35 L110.94 -14.35 L108.72 -13.33 L107.5 -12.3 L107.09 -10.25 L107.9 -9.23 L109.71 -8.2 L114.35 -6.15 L116.17 -5.13 L116.97 -4.1M107.3 -11.28 L108.1 -10.25 L109.92 -9.23 L114.56 -7.18 L116.37 -6.15 L117.18 -5.13 L116.56 -2.05 L115.35 -1.03 L113.12 0 L109.08 0 L107.27 -1.03 L106.46 -2.05 L105.86 -4.1 L105.04 0 L106.46 -2.05" stroke="#000" stroke-width="1.65" fill="none" stroke-linecap="round" stroke-linejoin="round"/>
<path transform="translate(458.6 666.6)" d="M7.92 -14.35 L5.05 0M8.93 -14.35 L6.06 0M7.7 -8.2 L9.33 -11.28 L11.76 -13.33 L13.98 -14.35 L17.01 -14.35 L17.82 -13.33 L17.61 -12.3 L16.4 -11.28 L15.59 -12.3 L16.81 -13.33M4.89 -14.35 L8.93 -14.35M2.02 0 L9.09 0M24.68 -12.3 L24.48 -11.28 L23.47 -11.28 L23.67 -12.3 L24.89 -13.33 L27.11 -14.35 L31.15 -14.35 L32.97 -13.33 L33.77 -12.3 L34.37 -10.25 L32.94 -3.08 L33.54 -1.03 L34.34 0M33.77 -12.3 L31.93 -3.08 L32.53 -1.03 L34.34 0 L35.35 0M33.36 -10.25 L32.15 -9.23 L25.88 -8.2 L22.65 -7.18 L21.23 -5.13 L20.82 -3.08 L21.42 -1.03 L24.24 0 L27.27 0 L29.5 -1.03 L31.93 -3.08M25.88 -8.2 L23.66 -7.18 L22.24 -5.13 L21.83 -3.08 L22.43 -1.03 L24.24 0M56.83 -21.53 L52.52 0M57.84 -21.53 L53.53 0M54.78 -11.28 L53.17 -13.33 L51.35 -14.35 L49.33 -14.35 L46.1 -13.33 L43.67 -11.28 L42.04 -8.2 L41.63 -6.15 L42.03 -3.08 L43.64 -1.03 L46.46 0 L48.48 0 L50.71 -1.03 L53.14 -3.08M49.33 -14.35 L47.11 -13.33 L44.68 -11.28 L43.05 -8.2 L42.64 -6.15 L43.04 -3.08 L44.65 -1.03 L46.46 0M53.8 -21.53 L57.84 -21.53M52.52 0 L56.56 0M64.04 -2.05 L62.83 -1.03 L63.63 0 L64.85 -1.03 L64.04 -2.05" stroke="#000" stroke-width="1.65" fill="none" stroke-linecap="round" stroke-linejoin="round"/>
<path transform="translate(292.8 453.2)" d="M5.05 -21.53 L5.05 0M6.06 -21.53 L6.06 0M12.12 -15.38 L12.12 -7.18M2.02 -21.53 L18.18 -21.53 L18.18 -15.38 L17.17 -21.53M6.06 -11.28 L12.12 -11.28M2.02 0 L9.09 0M24.64 -3.21 L24.64 7.07 L24.05 8.89 L22.86 9.49 L21.66 9.49 L20.47 8.89 L19.88 7.68 L19.88 6.47 L20.47 5.86 L21.07 6.47 L20.47 7.07M24.05 -3.21 L24.05 7.07 L23.45 8.89 L22.86 9.49M22.26 -3.21 L26.43 -3.21M38.73 -25.63 L36.71 -23.58 L34.69 -20.5 L32.67 -16.4 L31.66 -11.28 L31.66 -7.18 L32.67 -2.05 L34.69 2.05 L36.71 5.13 L38.73 7.18M36.71 -23.58 L34.69 -19.48 L33.68 -16.4 L32.67 -11.28 L32.67 -7.18 L33.68 -2.05 L34.69 1.03 L36.71 5.13M46.81 -21.53 L46.81 -4.1 L47.82 -1.03 L49.84 0 L51.86 0 L53.88 -1.03 L54.89 -3.08M47.82 -21.53 L47.82 -4.1 L48.83 -1.03 L49.84 0M43.78 -14.35 L51.86 -14.35M59.94 -25.63 L61.96 -23.58 L63.98 -20.5 L66 -16.4 L67.01 -11.28 L67.01 -7.18 L66 -2.05 L63.98 2.05 L61.96 5.13 L59.94 7.18M61.96 -23.58 L63.98 -19.48 L64.99 -16.4 L66 -11.28 L66 -7.18 L64.99 -2.05 L63.98 1.03 L61.96 5.13" stroke="#000" stroke-width="1.65" fill="none" stroke-linecap="round" stroke-linejoin="round"/>
<path transform="translate(509.8 443)" d="M5.05 -21.53 L5.05 0M6.06 -21.53 L6.06 0M12.12 -15.38 L12.12 -7.18M2.02 -21.53 L18.18 -21.53 L18.18 -15.38 L17.17 -21.53M6.06 -11.28 L12.12 -11.28M2.02 0 L9.09 0M24.64 -3.21 L24.64 7.07 L24.05 8.89 L22.86 9.49 L21.66 9.49 L20.47 8.89 L19.88 7.68 L19.88 6.47 L20.47 5.86 L21.07 6.47 L20.47 7.07M24.05 -3.21 L24.05 7.07 L23.45 8.89 L22.86 9.49M22.26 -3.21 L26.43 -3.21M38.73 -25.63 L36.71 -23.58 L34.69 -20.5 L32.67 -16.4 L31.66 -11.28 L31.66 -7.18 L32.67 -2.05 L34.69 2.05 L36.71 5.13 L38.73 7.18M36.71 -23.58 L34.69 -19.48 L33.68 -16.4 L32.67 -11.28 L32.67 -7.18 L33.68 -2.05 L34.69 1.03 L36.71 5.13M46.81 -21.53 L46.81 -4.1 L47.82 -1.03 L49.84 0 L51.86 0 L53.88 -1.03 L54.89 -3.08M47.82 -21.53 L47.82 -4.1 L48.83 -1.03 L49.84 0M43.78 -14.35 L51.86 -14.35M59.94 -25.63 L61.96 -23.58 L63.98 -20.5 L66 -16.4 L67.01 -11.28 L67.01 -7.18 L66 -2.05 L63.98 2.05 L61.96 5.13 L59.94 7.18M61.96 -23.58 L63.98 -19.48 L64.99 -16.4 L66 -11.28 L66 -7.18 L64.99 -2.05 L63.98 1.03 L61.96 5.13M76.1 0 L75.09 -1.03 L76.1 -2.05 L77.11 -1.03 L77.11 1.03 L76.1 3.08 L75.09 4.1M86.58 -21.53 L86.58 0M87.54 -21.53 L93.3 -3.08M86.58 -21.53 L93.3 0M100.02 -21.53 L93.3 0M100.02 -21.53 L100.02 0M100.97 -21.53 L100.97 0M83.7 -21.53 L87.54 -21.53M100.02 -21.53 L103.85 -21.53M83.7 0 L89.46 0M97.14 0 L103.85 0M89.79 -27.99 L89.63 -27.59 L89.23 -27.42 L88.84 -27.59 L88.68 -27.99 L88.84 -28.39 L89.23 -28.55 L89.63 -28.39 L89.79 -27.99M110.95 -12.3 L127.11 -12.3M110.95 -6.15 L127.11 -6.15M146.8 -11.28 L145.79 -10.25 L146.8 -9.23 L147.81 -10.25 L147.81 -11.28 L145.79 -13.33 L143.77 -14.35 L140.74 -14.35 L137.71 -13.33 L135.69 -11.28 L134.68 -8.2 L134.68 -6.15 L135.69 -3.08 L137.71 -1.03 L140.74 0 L142.76 0 L145.79 -1.03 L147.81 -3.08M140.74 -14.35 L138.72 -13.33 L136.7 -11.28 L135.69 -8.2 L135.69 -6.15 L136.7 -3.08 L138.72 -1.03 L140.74 0M159.93 -14.35 L156.9 -13.33 L154.88 -11.28 L153.87 -8.2 L153.87 -6.15 L154.88 -3.08 L156.9 -1.03 L159.93 0 L161.95 0 L164.98 -1.03 L167 -3.08 L168.01 -6.15 L168.01 -8.2 L167 -11.28 L164.98 -13.33 L161.95 -14.35 L159.93 -14.35M159.93 -14.35 L157.91 -13.33 L155.89 -11.28 L154.88 -8.2 L154.88 -6.15 L155.89 -3.08 L157.91 -1.03 L159.93 0M161.95 0 L163.97 -1.03 L165.99 -3.08 L167 -6.15 L167 -8.2 L165.99 -11.28 L163.97 -13.33 L161.95 -14.35M176.09 -14.35 L176.09 0M177.1 -14.35 L177.1 0M177.1 -11.28 L179.12 -13.33 L182.15 -14.35 L184.17 -14.35 L187.2 -13.33 L188.21 -11.28 L188.21 0M184.17 -14.35 L186.19 -13.33 L187.2 -11.28 L187.2 0M173.06 -14.35 L177.1 -14.35M173.06 0 L180.13 0M184.17 0 L191.24 0M206.39 -12.3 L207.4 -14.35 L207.4 -10.25 L206.39 -12.3 L205.38 -13.33 L203.36 -14.35 L199.32 -14.35 L197.3 -13.33 L196.29 -12.3 L196.29 -10.25 L197.3 -9.23 L199.32 -8.2 L204.37 -6.15 L206.39 -5.13 L207.4 -4.1M196.29 -11.28 L197.3 -10.25 L199.32 -9.23 L204.37 -7.18 L206.39 -6.15 L207.4 -5.13 L207.4 -2.05 L206.39 -1.03 L204.37 0 L200.33 0 L198.31 -1.03 L197.3 -2.05 L196.29 -4.1 L196.29 0 L197.3 -2.05M215.48 -21.53 L215.48 -4.1 L216.49 -1.03 L218.51 0 L220.53 0 L222.55 -1.03 L223.56 -3.08M216.49 -21.53 L216.49 -4.1 L217.5 -1.03 L218.51 0M212.45 -14.35 L220.53 -14.35" stroke="#00f" stroke-width="1.65" fill="none" stroke-linecap="round" stroke-linejoin="round"/>
<path transform="translate(649 600.7)" d="M5.05 -14.35 L5.05 0M6.06 -14.35 L6.06 0M6.06 -8.2 L7.07 -11.28 L9.09 -13.33 L11.11 -14.35 L14.14 -14.35 L15.15 -13.33 L15.15 -12.3 L14.14 -11.28 L13.13 -12.3 L14.14 -13.33M2.02 -14.35 L6.06 -14.35M2.02 0 L9.09 0M20.15 -3.21 L20.15 9.49M20.75 -3.21 L20.75 9.49M20.75 2.84 L21.94 1.63 L23.13 1.03 L24.32 1.03 L26.11 1.63 L27.3 2.84 L27.9 4.66 L27.9 5.86 L27.3 7.68 L26.11 8.89 L24.32 9.49 L23.13 9.49 L21.94 8.89 L20.75 7.68M24.32 1.03 L25.51 1.63 L26.7 2.84 L27.3 4.66 L27.3 5.86 L26.7 7.68 L25.51 8.89 L24.32 9.49M18.36 -3.21 L20.75 -3.21M40.79 -25.63 L38.77 -23.58 L36.75 -20.5 L34.73 -16.4 L33.72 -11.28 L33.72 -7.18 L34.73 -2.05 L36.75 2.05 L38.77 5.13 L40.79 7.18M38.77 -23.58 L36.75 -19.48 L35.74 -16.4 L34.73 -11.28 L34.73 -7.18 L35.74 -2.05 L36.75 1.03 L38.77 5.13M48.87 -21.53 L48.87 -4.1 L49.88 -1.03 L51.9 0 L53.92 0 L55.94 -1.03 L56.95 -3.08M49.88 -21.53 L49.88 -4.1 L50.89 -1.03 L51.9 0M45.84 -14.35 L53.92 -14.35M62 -25.63 L64.02 -23.58 L66.04 -20.5 L68.06 -16.4 L69.07 -11.28 L69.07 -7.18 L68.06 -2.05 L66.04 2.05 L64.02 5.13 L62 7.18M64.02 -23.58 L66.04 -19.48 L67.05 -16.4 L68.06 -11.28 L68.06 -7.18 L67.05 -2.05 L66.04 1.03 L64.02 5.13" stroke="#000" stroke-width="1.65" fill="none" stroke-linecap="round" stroke-linejoin="round"/>
<path transform="translate(171 601.2) rotate(-21)" d="M5.05 -14.35 L5.05 0M6.06 -14.35 L6.06 0M6.06 -8.2 L7.07 -11.28 L9.09 -13.33 L11.11 -14.35 L14.14 -14.35 L15.15 -13.33 L15.15 -12.3 L14.14 -11.28 L13.13 -12.3 L14.14 -13.33M2.02 -14.35 L6.06 -14.35M2.02 0 L9.09 0M21.72 -12.3 L37.88 -12.3M21.72 -6.15 L37.88 -6.15M47.47 -14.35 L47.47 0M48.48 -14.35 L48.48 0M48.48 -8.2 L49.49 -11.28 L51.51 -13.33 L53.53 -14.35 L56.56 -14.35 L57.57 -13.33 L57.57 -12.3 L56.56 -11.28 L55.55 -12.3 L56.56 -13.33M44.44 -14.35 L48.48 -14.35M44.44 0 L51.51 0M62.57 -3.21 L61.97 -2.6 L62.57 -2 L63.17 -2.6 L62.57 -3.21M62.57 1.03 L62.57 9.49M63.17 1.03 L63.17 9.49M60.78 1.03 L63.17 1.03M60.78 9.49 L64.95 9.49M69.12 1.03 L69.12 9.49M69.72 1.03 L69.72 9.49M69.72 2.84 L70.91 1.63 L72.7 1.03 L73.89 1.03 L75.68 1.63 L76.28 2.84 L76.28 9.49M73.89 1.03 L75.08 1.63 L75.68 2.84 L75.68 9.49M67.34 1.03 L69.72 1.03M67.34 9.49 L71.51 9.49M73.89 9.49 L78.06 9.49M85.21 -2.6 L84.62 -2 L85.21 -1.39 L85.81 -2 L85.81 -2.6 L85.21 -3.21 L84.02 -3.21 L82.83 -2.6 L82.23 -1.39 L82.23 9.49M84.02 -3.21 L83.43 -2.6 L82.83 -1.39 L82.83 9.49M80.45 1.03 L85.21 1.03M80.45 9.49 L84.62 9.49M89.98 -3.21 L89.98 9.49M90.58 -3.21 L90.58 9.49M88.19 -3.21 L90.58 -3.21M88.19 9.49 L92.36 9.49M104.67 -25.63 L102.65 -23.58 L100.63 -20.5 L98.61 -16.4 L97.6 -11.28 L97.6 -7.18 L98.61 -2.05 L100.63 2.05 L102.65 5.13 L104.67 7.18M102.65 -23.58 L100.63 -19.48 L99.62 -16.4 L98.61 -11.28 L98.61 -7.18 L99.62 -2.05 L100.63 1.03 L102.65 5.13M112.75 -21.53 L112.75 -4.1 L113.76 -1.03 L115.78 0 L117.8 0 L119.82 -1.03 L120.83 -3.08M113.76 -21.53 L113.76 -4.1 L114.77 -1.03 L115.78 0M109.72 -14.35 L117.8 -14.35M125.88 -25.63 L127.9 -23.58 L129.92 -20.5 L131.94 -16.4 L132.95 -11.28 L132.95 -7.18 L131.94 -2.05 L129.92 2.05 L127.9 5.13 L125.88 7.18M127.9 -23.58 L129.92 -19.48 L130.93 -16.4 L131.94 -11.28 L131.94 -7.18 L130.93 -2.05 L129.92 1.03 L127.9 5.13" stroke="#000" stroke-width="1.65" fill="none" stroke-linecap="round" stroke-linejoin="round"/>
</svg>
</body></html>
